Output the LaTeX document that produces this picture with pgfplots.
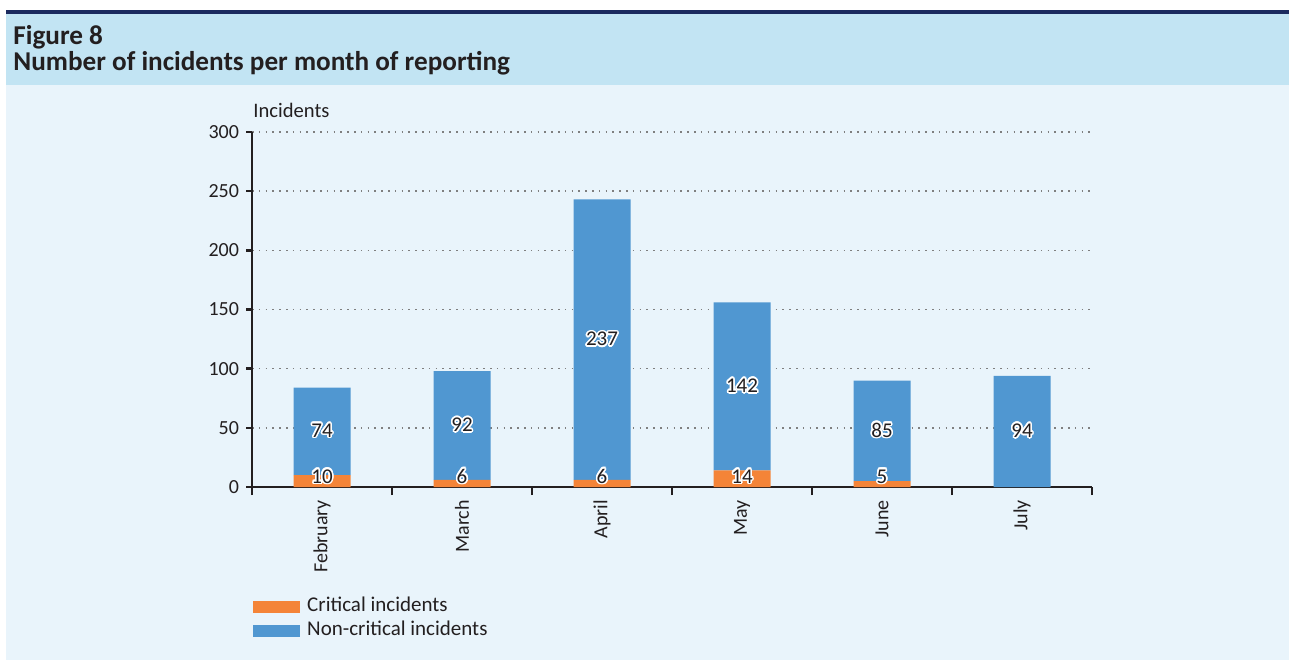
\documentclass[border=0pt]{standalone}
\usepackage{fontspec}
\setmainfont{Carlito}
\usepackage{pgfplots}
\usepackage{pgfplotstable}
\pgfplotsset{compat=1.18}
\usepackage{contour}
\contourlength{0.8pt}

\definecolor{headband}{HTML}{C2E4F3}
\definecolor{bodybg}{HTML}{E9F4FB}
\definecolor{navyline}{HTML}{1B2A5E}
\definecolor{inkdark}{HTML}{231F20}
\definecolor{critical}{HTML}{F48438}
\definecolor{noncritical}{HTML}{5097D1}
\definecolor{gridline}{HTML}{7F7F7F}

\pgfplotstableread{
pos month crit noncrit
0 February 10 74
1 March 6 92
2 April 6 237
3 May 14 142
4 June 5 85
5 July 0 94
}\incidents

\pgfplotsset{
  chartbox/.style={
    scale only axis,
    width=420pt, height=177.5pt,
    at={(126pt,-243.5pt)}, anchor=south west,
    xmin=-0.5, xmax=5.5, ymin=0, ymax=300,
  },
}

\begin{document}
\begin{tikzpicture}
\begin{scope}[x=0.5pt,y=-0.5pt]
  \path[use as bounding box, fill=white] (0,0) rectangle (1289,660);
  \fill[headband] (6,13) rectangle (1289,85);
  \fill[bodybg] (6,85) rectangle (1289,660);
  \fill[navyline] (6,10) rectangle (1289,13.5);
  \node[anchor=base west, inner sep=0pt, text=inkdark,
        font=\bfseries\fontsize{13.6}{15}\selectfont] at (13,44) {Figure 8};
  \node[anchor=base west, inner sep=0pt, text=inkdark,
        font=\bfseries\fontsize{13.6}{15}\selectfont] at (13,70) {Number of incidents per month of reporting};
  \node[anchor=base west, inner sep=0pt, text=inkdark,
        font=\fontsize{10.3}{12}\selectfont] at (253,117) {Incidents};
\end{scope}

% bars
\begin{axis}[
    chartbox,
    ybar stacked,
    bar width=28.5pt,
    axis lines*=left,
    axis line style={line width=1.3pt, inkdark},
    ytick={0,50,...,300},
    ymajorgrids,
    grid style={gridline, line width=0.7pt, dash pattern=on 0.8pt off 2.6pt},
    xtick={0,...,5},
    xticklabels={February,March,April,May,June,July},
    major x tick style={draw=none},
    minor xtick={-0.5,0.5,...,5.5},
    tick align=outside,
    major tick length=3pt,
    minor tick length=4pt,
    tick style={line width=1.3pt, inkdark},
    ticklabel style={font=\fontsize{10}{12}\selectfont, text=inkdark},
    /pgf/number format/assume math mode=true,
    x tick label style={rotate=90, anchor=east},
    legend style={at={(axis description cs:0.001,-0.302)}, anchor=north west,
      draw=none, fill=none, inner sep=0pt, font=\fontsize{10.5}{12}\selectfont,
      text=inkdark,
      nodes={inner ysep=1.5pt, inner xsep=3.5pt, text height=7pt, text depth=2pt}},
    legend cell align=left,
]
\addplot+[fill=critical, draw=none,
  legend image code/.code={\fill[critical] (0pt,-3pt) rectangle (23.5pt,3pt);}]
  table[x=pos, y=crit] {\incidents};
\addplot+[fill=noncritical, draw=none,
  legend image code/.code={\fill[noncritical] (0pt,-3pt) rectangle (23.5pt,3pt);}]
  table[x=pos, y=noncrit] {\incidents};
\legend{Critical incidents, Non-critical incidents}
\end{axis}

% value labels
\begin{axis}[
    chartbox,
    hide axis,
    clip=false,
    point meta=explicit symbolic,
    nodes near coords={\contour{white}{\pgfplotspointmeta}},
    every node near coord/.append style={font=\fontsize{10.5}{12}\selectfont, text=inkdark, inner sep=0pt},
]
\addplot[only marks, mark=none,
  every node near coord/.append style={anchor=center}]
  table[x=pos, y expr=\thisrow{crit}+0.5*\thisrow{noncrit}, meta=noncrit] {\incidents};
\addplot[only marks, mark=none, skip coords between index={5}{6},
  every node near coord/.append style={anchor=base, yshift=2pt}]
  table[x=pos, y expr=0, meta=crit] {\incidents};
\end{axis}
\end{tikzpicture}
\end{document}
